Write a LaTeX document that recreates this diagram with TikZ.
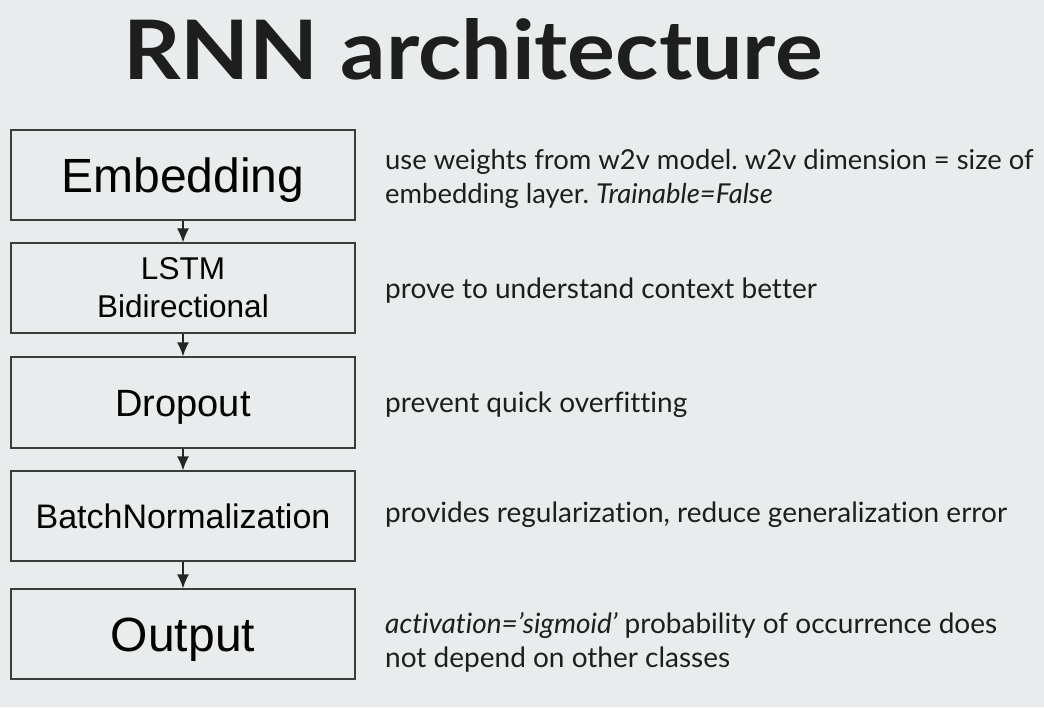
\documentclass[tikz,border=0pt]{standalone}
\usepackage{fontspec}
\setmainfont{Lato}[Ligatures=NoCommon]
\newfontfamily\arialfont{Liberation Sans}
\usetikzlibrary{arrows.meta}
\definecolor{bg}{HTML}{E8ECEC}
\definecolor{edge}{HTML}{3C3C3C}
\definecolor{arrowc}{HTML}{262626}
\definecolor{ink}{HTML}{1E1E1E}
\frenchspacing
\tikzset{
  layer/.style={draw=edge, line width=1.3pt, fill=bg, minimum width=344pt, minimum height=90pt, inner sep=0pt, text=black, align=center},
  flow/.style={draw=arrowc, line width=1.4pt, -{Latex[length=14pt,width=12pt]}},
  note/.style={anchor=base west, inner sep=0pt, align=left, text=ink, font=\fontsize{28}{34}\selectfont},
}
\begin{document}
\begin{tikzpicture}[x=1pt,y=-1pt]
\fill[bg] (0,0) rectangle (1044,707);
\useasboundingbox (0,0) rectangle (1044,707);
% title
\node[anchor=base west, inner sep=0pt, text=ink] (title) at (123,79)
  {\resizebox{699pt}{61pt}{\bfseries RNN architecture}};
% boxes
\node[layer, font=\arialfont\fontsize{48}{56}\selectfont, text height=34.4pt, text depth=0pt] (emb) at (183,175) {Embedding};
\node[layer, font=\arialfont\fontsize{31.5}{38}\selectfont] (lstm) at (183,288) {LSTM\\Bidirectional};
\node[layer, font=\arialfont\fontsize{38}{44}\selectfont, minimum height=91pt, text height=27.2pt, text depth=0pt] (drop) at (183,402.5) {Dropout};
\node[layer, font=\arialfont\fontsize{34}{40}\selectfont, text height=24.4pt, text depth=0pt] (bn) at (183,516) {BatchNormalization};
\node[layer, font=\arialfont\fontsize{48}{56}\selectfont, text height=34.4pt, text depth=0pt] (out) at (183,634) {Output};
% arrows
\draw[flow] (emb) -- (lstm);
\draw[flow] (lstm) -- (drop);
\draw[flow] (drop) -- (bn);
\draw[flow] (bn) -- (out);
% notes (base = last line)
\node[note, font=\fontsize{27.4}{34}\selectfont] (n1) at (385,203) {use weights from w2v model. w2v dimension = size of\\embedding layer. \textit{Trainable=False}};
\node[note] (n2) at (385,298) {prove to understand context better};
\node[note] (n3) at (385,412) {prevent quick overfitting};
\node[note] (n4) at (385,522) {provides regularization, reduce generalization error};
\node[note] (n5) at (385,667) {\textit{activation=’sigmoid’} probability of occurrence does\\not depend on other classes};
\end{tikzpicture}
\end{document}
